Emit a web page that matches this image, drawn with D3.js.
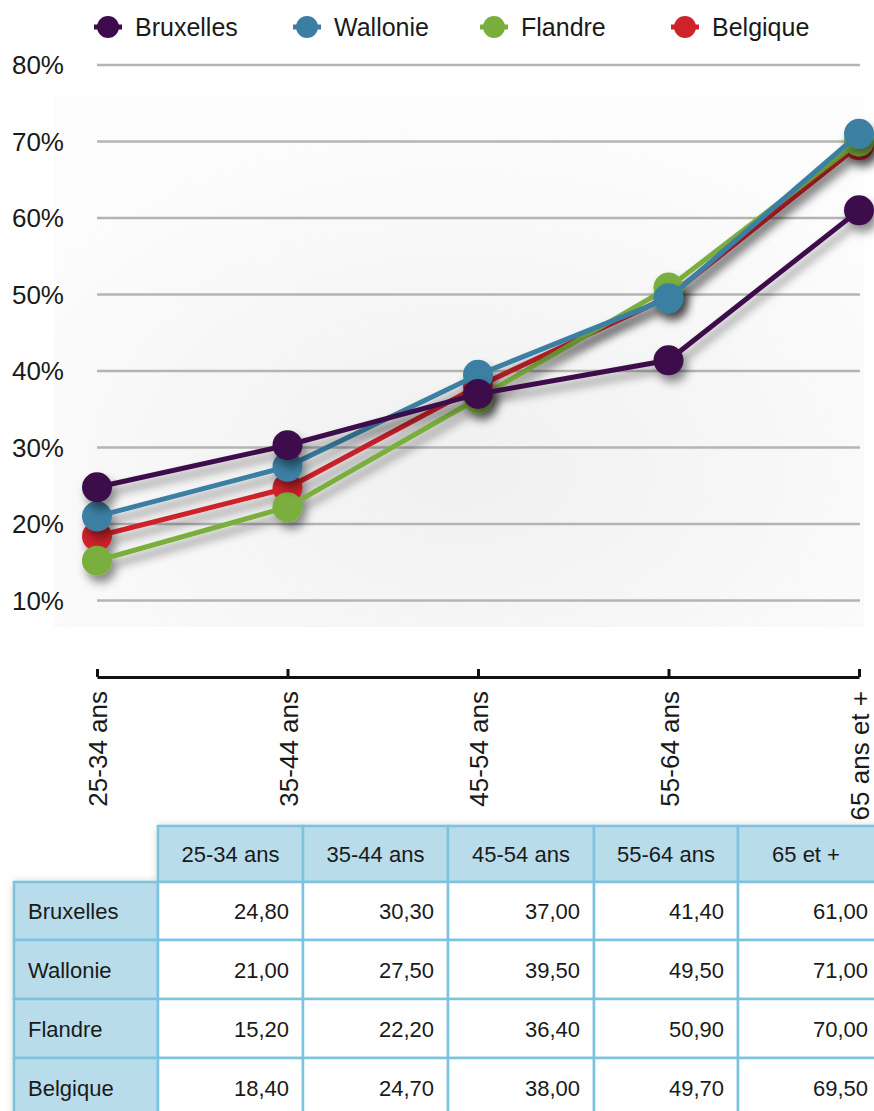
<!DOCTYPE html>
<html>
<head>
<meta charset="utf-8">
<script src="https://cdn.jsdelivr.net/npm/d3@7"></script>
<style>
  body { margin: 0; background: #fff; }
  svg { display: block; font-family: "Liberation Sans", Arial, sans-serif; }
</style>
</head>
<body>
<div id="chart"></div>
<script>
// data
const ageGroups = ["25-34 ans", "35-44 ans", "45-54 ans", "55-64 ans", "65 ans et +"];
const tableHeaders = ["25-34 ans", "35-44 ans", "45-54 ans", "55-64 ans", "65 et +"];
const regions = ["Bruxelles", "Wallonie", "Flandre", "Belgique"];
const bruxelles = [24.8, 30.3, 37.0, 41.4, 61.0];
const wallonie = [21.0, 27.5, 39.5, 49.5, 71.0];
const flandre = [15.2, 22.2, 36.4, 50.9, 70.0];
const belgique = [18.4, 24.7, 38.0, 49.7, 69.5];
const yTicks = [10, 20, 30, 40, 50, 60, 70, 80];
const colors = ["#3d0b4b", "#3a7fa3", "#7aae3c", "#cf232b"];

const width = 874;
const height = 1111;
const margin = {left: 97, right: 15, top: 65, bottom: 434};

const series = regions.map((r, i) => ({name: r, values: [bruxelles, wallonie, flandre, belgique][i], color: colors[i]}));

const svg = d3.select("#chart")
  .append("svg")
  .attr("width", width)
  .attr("height", height);

const defs = svg.append("defs");

const shadow = defs.append("filter")
  .attr("id", "shadow")
  .attr("x", "-20%").attr("y", "-20%")
  .attr("width", "140%").attr("height", "140%");
shadow.append("feDropShadow")
  .attr("dx", 4).attr("dy", 7)
  .attr("stdDeviation", 5)
  .attr("flood-color", "#000")
  .attr("flood-opacity", 0.45);

const bg = defs.append("radialGradient")
  .attr("id", "bg")
  .attr("cx", "50%").attr("cy", "70%").attr("r", "65%");
bg.append("stop").attr("offset", "0%").attr("stop-color", "#f0f0f0");
bg.append("stop").attr("offset", "100%").attr("stop-color", "#fcfcfc");

const tableShadow = defs.append("filter")
  .attr("id", "tshadow")
  .attr("x", "-10%").attr("y", "-10%")
  .attr("width", "120%").attr("height", "120%");
tableShadow.append("feDropShadow")
  .attr("dx", 0).attr("dy", 0)
  .attr("stdDeviation", 4)
  .attr("flood-color", "#000")
  .attr("flood-opacity", 0.2);

// scales
const xScale = d3.scalePoint()
  .domain(ageGroups)
  .range([margin.left, width - margin.right]);

const yScale = d3.scaleLinear()
  .domain([0, 80])
  .range([height - margin.bottom, margin.top]);

// plot background
svg.append("rect")
  .attr("x", 54)
  .attr("y", 97)
  .attr("width", 810)
  .attr("height", 530)
  .attr("fill", "url(#bg)");

// gridlines
svg.append("g")
  .selectAll("line")
  .data(yTicks)
  .enter()
  .append("line")
    .attr("x1", margin.left)
    .attr("x2", width - margin.right + 1)
    .attr("y1", d => yScale(d))
    .attr("y2", d => yScale(d))
    .attr("stroke", "#b4b4b4")
    .attr("stroke-width", 2.5);

// y labels
svg.append("g")
  .selectAll("text")
  .data(yTicks)
  .enter()
  .append("text")
    .attr("x", 64)
    .attr("y", d => yScale(d) + 9)
    .attr("text-anchor", "end")
    .attr("font-size", "26px")
    .attr("fill", "#1a1a1a")
    .text(d => d + "%");

// x axis
const xAxis = svg.append("g")
  .attr("transform", `translate(0, ${yScale(0)})`)
  .call(d3.axisTop(xScale).tickSize(8).tickSizeOuter(0).tickFormat(""));
xAxis.select(".domain").attr("stroke", "#111").attr("stroke-width", 3);
xAxis.selectAll(".tick line").attr("stroke", "#111").attr("stroke-width", 3);

svg.append("g")
  .selectAll("text")
  .data(ageGroups)
  .enter()
  .append("text")
    .attr("transform", d => `translate(${xScale(d) + 10}, 691) rotate(-90)`)
    .attr("text-anchor", "end")
    .attr("font-size", "26px")
    .attr("fill", "#1a1a1a")
    .text(d => d);

// lines, drawn Belgique first so Bruxelles ends on top
const line = d3.line()
  .x((d, i) => xScale(ageGroups[i]))
  .y(d => yScale(d));

const drawOrder = [3, 2, 1, 0];
drawOrder.forEach(k => {
  const s = series[k];
  const g = svg.append("g").attr("filter", "url(#shadow)");
  g.append("path")
    .datum(s.values)
    .attr("d", line)
    .attr("fill", "none")
    .attr("stroke", s.color)
    .attr("stroke-width", 5);
  g.selectAll("circle")
    .data(s.values)
    .enter()
    .append("circle")
      .attr("cx", (d, i) => xScale(ageGroups[i]))
      .attr("cy", d => yScale(d))
      .attr("r", 15)
      .attr("fill", s.color);
});

// legend
const legendX = [108, 307, 494, 685];
const legend = svg.append("g")
  .selectAll("g")
  .data(series)
  .enter()
  .append("g")
    .attr("transform", (d, i) => `translate(${legendX[i]}, 27)`);
legend.append("line")
  .attr("x1", -14).attr("x2", 14)
  .attr("stroke", d => d.color)
  .attr("stroke-width", 5);
legend.append("circle")
  .attr("r", 11)
  .attr("fill", d => d.color);
legend.append("text")
  .attr("x", 27)
  .attr("y", 9)
  .attr("font-size", "25px")
  .attr("fill", "#1a1a1a")
  .text(d => d.name);

// table
const colEdges = [158, 303, 448, 594, 738, 880];
const rowEdges = [882, 940, 999, 1058, 1117];
const headTop = 826;
const tableLeft = 14;
const cellFill = "#b8dcea";
const borderColor = "#7cc3e0";

const table = svg.append("g");

const shadowG = table.append("g").attr("filter", "url(#tshadow)");
shadowG.append("rect")
  .attr("x", colEdges[0]).attr("y", headTop)
  .attr("width", colEdges[5] - colEdges[0]).attr("height", rowEdges[0] - headTop)
  .attr("fill", cellFill);
shadowG.append("rect")
  .attr("x", tableLeft).attr("y", rowEdges[0])
  .attr("width", colEdges[5] - tableLeft).attr("height", rowEdges[4] - rowEdges[0])
  .attr("fill", "#fff");

// header cells
table.selectAll(".hcell")
  .data(tableHeaders)
  .enter()
  .append("rect")
    .attr("x", (d, i) => colEdges[i])
    .attr("y", headTop)
    .attr("width", (d, i) => colEdges[i + 1] - colEdges[i])
    .attr("height", rowEdges[0] - headTop)
    .attr("fill", cellFill)
    .attr("stroke", borderColor)
    .attr("stroke-width", 2.5);

table.selectAll(".htext")
  .data(tableHeaders)
  .enter()
  .append("text")
    .attr("x", (d, i) => (colEdges[i] + Math.min(colEdges[i + 1], 874)) / 2)
    .attr("y", (headTop + rowEdges[0]) / 2 + 8)
    .attr("text-anchor", "middle")
    .attr("font-size", "22px")
    .attr("fill", "#1a1a1a")
    .text(d => d);

// row label cells
table.selectAll(".rcell")
  .data(series)
  .enter()
  .append("rect")
    .attr("x", tableLeft)
    .attr("y", (d, i) => rowEdges[i])
    .attr("width", colEdges[0] - tableLeft)
    .attr("height", (d, i) => rowEdges[i + 1] - rowEdges[i])
    .attr("fill", cellFill)
    .attr("stroke", borderColor)
    .attr("stroke-width", 2.5);

table.selectAll(".rtext")
  .data(series)
  .enter()
  .append("text")
    .attr("x", 28)
    .attr("y", (d, i) => (rowEdges[i] + rowEdges[i + 1]) / 2 + 8)
    .attr("font-size", "22px")
    .attr("fill", "#1a1a1a")
    .text(d => d.name);

// value cells
series.forEach((s, r) => {
  const row = table.append("g");
  row.selectAll("rect")
    .data(s.values)
    .enter()
    .append("rect")
      .attr("x", (d, i) => colEdges[i])
      .attr("y", rowEdges[r])
      .attr("width", (d, i) => colEdges[i + 1] - colEdges[i])
      .attr("height", rowEdges[r + 1] - rowEdges[r])
      .attr("fill", "#fff")
      .attr("stroke", borderColor)
      .attr("stroke-width", 2.5);
  row.selectAll("text")
    .data(s.values)
    .enter()
    .append("text")
      .attr("x", (d, i) => i === 4 ? 868 : colEdges[i + 1] - 14)
      .attr("y", (rowEdges[r] + rowEdges[r + 1]) / 2 + 8)
      .attr("text-anchor", "end")
      .attr("font-size", "22px")
      .attr("fill", "#1a1a1a")
      .text(d => d.toFixed(2).replace(".", ","));
});
</script>
</body>
</html>
